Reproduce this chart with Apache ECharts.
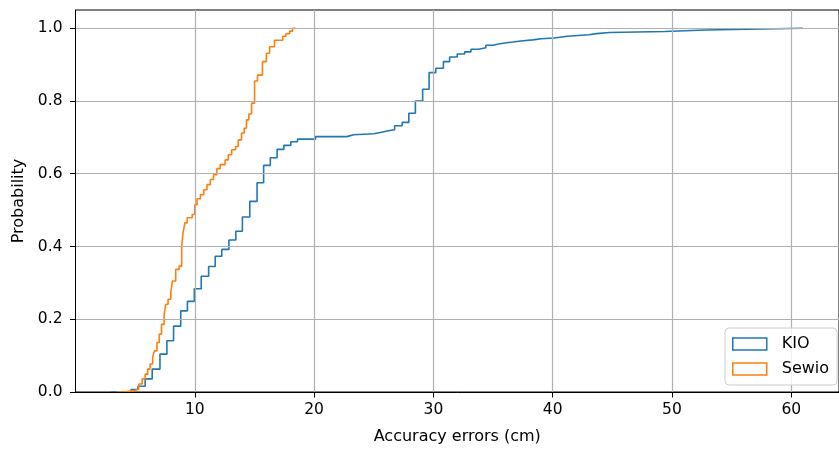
<!DOCTYPE html>
<html>
<head>
<meta charset="utf-8">
<script src="https://cdn.jsdelivr.net/npm/echarts@6.0.0/dist/echarts.min.js"></script>
<style>
html,body{margin:0;padding:0;background:#fff;}
#chart{width:839px;height:450px;}
</style>
</head>
<body>
<div id="chart"></div>
<script>
const seriesNames = ['KIO', 'Sewio'];
const kioX = [2.94, 4.66, 5.24, 5.84, 6.43, 7.08, 7.66, 8.22, 8.82, 9.38, 9.96, 10.54, 11.16, 11.71, 12.26, 12.86, 13.44, 13.99, 14.61, 15.22, 15.77, 16.33, 16.90, 17.47, 18.05, 18.61, 20.12, 22.75, 23.30, 25.01, 25.65, 26.20, 26.75, 27.38, 27.94, 28.49, 29.10, 29.64, 30.20, 30.84, 31.36, 32.00, 32.62, 33.15, 33.78, 34.40, 34.98, 35.58, 36.13, 36.68, 37.32, 38.34, 39.03, 40.13, 41.23, 43.03, 43.67, 44.77, 49.38, 52.82, 60.97];
const kioP = [0, 0.007, 0.016, 0.036, 0.063, 0.104, 0.141, 0.181, 0.223, 0.249, 0.284, 0.318, 0.345, 0.373, 0.392, 0.418, 0.442, 0.481, 0.524, 0.575, 0.623, 0.644, 0.667, 0.678, 0.688, 0.695, 0.702, 0.707, 0.710, 0.714, 0.718, 0.721, 0.732, 0.741, 0.766, 0.800, 0.832, 0.878, 0.890, 0.908, 0.921, 0.929, 0.935, 0.942, 0.946, 0.953, 0.957, 0.960, 0.962, 0.965, 0.968, 0.971, 0.973, 0.978, 0.982, 0.985, 0.988, 0.991, 0.995, 1.0, 1.0];
const sewX = [3.44, 4.04, 4.81, 5.31, 5.59, 5.84, 6.05, 6.25, 6.47, 6.61, 6.83, 7.02, 7.21, 7.43, 7.57, 7.76, 7.99, 8.12, 8.40, 8.68, 8.90, 9.01, 9.17, 9.36, 9.78, 10.00, 10.19, 10.47, 10.75, 11.02, 11.30, 11.57, 11.85, 12.13, 12.54, 12.81, 13.09, 13.42, 13.64, 13.92, 14.14, 14.33, 14.53, 14.76, 15.01, 15.26, 15.67, 16.00, 16.27, 16.68, 17.37, 17.64, 17.95, 18.20, 18.44];
const sewP = [0, 0.003, 0.008, 0.022, 0.036, 0.049, 0.063, 0.077, 0.096, 0.113, 0.136, 0.159, 0.186, 0.214, 0.241, 0.255, 0.274, 0.305, 0.337, 0.346, 0.400, 0.437, 0.465, 0.479, 0.488, 0.515, 0.531, 0.542, 0.556, 0.570, 0.584, 0.597, 0.614, 0.625, 0.638, 0.652, 0.666, 0.675, 0.693, 0.712, 0.725, 0.748, 0.764, 0.794, 0.855, 0.871, 0.908, 0.931, 0.949, 0.967, 0.978, 0.985, 0.992, 1.0, 1.0];
const xTicks = [10, 20, 30, 40, 50, 60];
const yTicks = [0, 0.2, 0.4, 0.6, 0.8, 1.0];
const colors = ['#1f77b4', '#ff7f0e'];

const FONT = 'DejaVu Sans';
const FS = 15.5;

function pairs(xs, ps) { return xs.map((x, i) => [x, ps[i]]); }

const chart = echarts.init(document.getElementById('chart'), null, {renderer: 'canvas'});
chart.setOption({
  animation: false,
  backgroundColor: '#ffffff',
  textStyle: {fontFamily: FONT},
  grid: {left: 75.5, top: 10, width: 773, height: 383, show: true,
         borderColor: '#000', borderWidth: 1, backgroundColor: 'rgba(0,0,0,0)'},
  legend: {
    orient: 'vertical',
    left: 725, top: 328,
    padding: [8, 8, 8, 7],
    itemWidth: 34, itemHeight: 12, itemGap: 9,
    backgroundColor: 'rgba(255,255,255,0.8)',
    borderColor: '#cccccc', borderWidth: 1, borderRadius: 4,
    textStyle: {fontFamily: FONT, fontSize: 16, color: '#000', padding: [0, 0, 0, 10]},
    data: seriesNames.map((n, i) => ({
      name: n, icon: 'rect',
      itemStyle: {color: 'rgba(0,0,0,0)', borderColor: colors[i], borderWidth: 1.5}
    }))
  },
  xAxis: {
    type: 'value', min: 0, max: 64, interval: 10, z: 3,
    name: 'Accuracy errors (cm)', nameLocation: 'middle', nameGap: 37,
    nameTextStyle: {fontFamily: FONT, fontSize: 16, color: '#000'},
    axisLine: {show: true, onZero: false, lineStyle: {color: '#000', width: 1}},
    axisTick: {show: true, length: 5.5, lineStyle: {color: '#000', width: 1}, customValues: xTicks},
    axisLabel: {color: '#000', fontFamily: FONT, fontSize: FS, margin: 10, customValues: xTicks,
      formatter: v => String(v)},
    splitLine: {show: true, lineStyle: {color: '#b0b0b0', width: 1.2}}
  },
  yAxis: {
    type: 'value', min: 0, max: 1.05, interval: 0.2, z: 3,
    name: 'Probability', nameLocation: 'middle', nameGap: 47,
    nameTextStyle: {fontFamily: FONT, fontSize: 16, color: '#000'},
    axisLine: {show: true, onZero: false, lineStyle: {color: '#000', width: 1}},
    axisTick: {show: true, length: 5.5, lineStyle: {color: '#000', width: 1}, customValues: yTicks},
    axisLabel: {color: '#000', fontFamily: FONT, fontSize: FS, margin: 13, customValues: yTicks,
      formatter: v => v.toFixed(1)},
    splitLine: {show: true, lineStyle: {color: '#b0b0b0', width: 1.2}}
  },
  series: [
    {name: seriesNames[0], type: 'line', step: 'end', z: 1, showSymbol: false, symbol: 'none',
     color: colors[0], lineStyle: {color: colors[0], width: 1.6}, data: pairs(kioX, kioP)},
    {name: seriesNames[1], type: 'line', step: 'end', z: 1, showSymbol: false, symbol: 'none',
     color: colors[1], lineStyle: {color: colors[1], width: 1.6}, data: pairs(sewX, sewP)}
  ]
});
</script>
</body>
</html>
